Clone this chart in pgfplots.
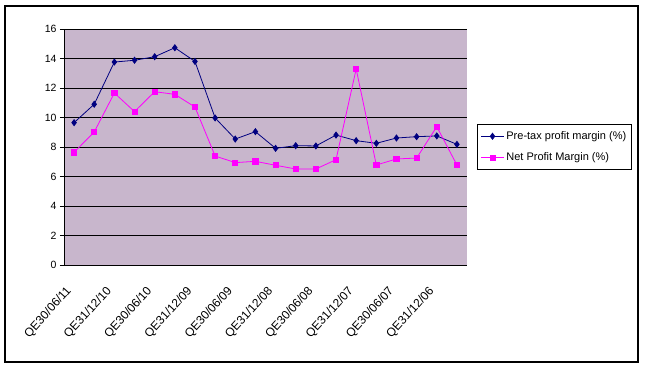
\documentclass[border=0pt]{standalone}
\usepackage{pgfplots}
\pgfplotsset{compat=1.18}
\usepackage{fontspec}
\setmainfont{Liberation Sans}
\definecolor{bgplot}{RGB}{200,182,204}
\definecolor{navy}{RGB}{0,0,128}
\definecolor{mag}{RGB}{255,0,255}
\begin{document}
\begin{tikzpicture}
\begin{axis}[
  at={(0pt,0pt)}, anchor=south west,
  scale only axis, width=403pt, height=236pt,
  xmin=-0.5, xmax=19.5, ymin=0, ymax=16,
  axis background/.style={fill=bgplot},
  axis x line*=bottom, axis y line*=left,
  axis line style={line width=0.9pt},
  ytick={0,2,...,16},
  ymajorgrids, grid style={black, line width=1pt},
  tick align=outside,
  major tick length=4pt,
  tick style={black, line width=0.9pt},
  xtick={0,2,...,18},
  xticklabels={QE30/06/11,QE31/12/10,QE30/06/10,QE31/12/09,QE30/06/09,QE31/12/08,QE30/06/08,QE31/12/07,QE30/06/07,QE31/12/06},
  x tick style={draw=none},
  minor xtick={-0.5,0.5,...,19.5},
  minor tick length=4pt,
  minor x tick style={black, line width=0.9pt},
  x tick label style={xshift=-9pt, yshift=-16pt, rotate=48, anchor=north east, inner sep=0pt, font=\fontsize{12}{13}\selectfont},
  y tick label style={font=\fontsize{10.5}{11}\selectfont},
  /pgf/number format/assume math mode=true,
  legend style={at={(1,0.5)}, anchor=west, xshift=10pt, draw=black, line width=1.2pt,
    font=\fontsize{11}{12}\selectfont, inner xsep=3pt, inner ysep=5pt, row sep=8pt,
    legend cell align=left},
  legend image code/.code={\draw[mark repeat=2,mark phase=2,#1] plot coordinates {(0pt,0pt) (11.5pt,0pt) (23pt,0pt)};},
  legend image post style={line width=0.8pt},
]
\addplot[navy, line width=0.8pt, mark=diamond*, mark size=3pt] coordinates {
(0,9.65) (1,10.9) (2,13.76) (3,13.88) (4,14.12) (5,14.73) (6,13.8) (7,9.97) (8,8.54) (9,9.04)
(10,7.91) (11,8.09) (12,8.07) (13,8.81) (14,8.43) (15,8.25) (16,8.61) (17,8.7) (18,8.75) (19,8.18)};
\addlegendentry{Pre-tax profit margin (\%)}
\addplot[mag, line width=0.8pt, mark=square*, mark size=2.6pt] coordinates {
(0,7.64) (1,9.02) (2,11.66) (3,10.4) (4,11.75) (5,11.57) (6,10.71) (7,7.39) (8,6.94) (9,7.03)
(10,6.76) (11,6.51) (12,6.51) (13,7.14) (14,13.29) (15,6.78) (16,7.19) (17,7.25) (18,9.38) (19,6.78)};
\addlegendentry{Net Profit Margin (\%)}
\end{axis}
\path[use as bounding box] (-64pt,-102pt) rectangle (583pt,265pt);
\draw[line width=1.2pt] (-59pt,-97pt) rectangle (574pt,259pt);
\end{tikzpicture}
\end{document}
